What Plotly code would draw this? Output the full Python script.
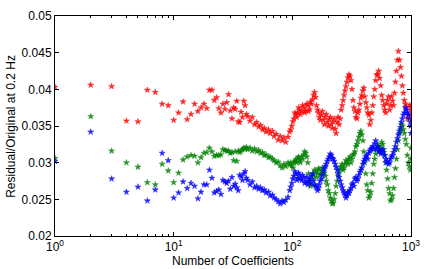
import plotly.graph_objects as go

# individual coefficient counts 1..41
n_low = list(range(1, 42))
red_low = [0.0403, 0.0406, 0.0404, 0.0357, 0.0356, 0.0399, 0.0396, 0.0380, 0.0378, 0.0358,
           0.0368, 0.0383, 0.0359, 0.0366, 0.0380, 0.0370, 0.0375, 0.0380, 0.0374, 0.0399,
           0.0399, 0.0385, 0.0389, 0.0374, 0.0368, 0.0380, 0.0373, 0.0382, 0.0393, 0.0371,
           0.0360, 0.0375, 0.0373, 0.0384, 0.0356, 0.0355, 0.0369, 0.0362, 0.0384, 0.0378,
           0.0366]
green_low = [0.0306, 0.0363, 0.0316, 0.0300, 0.0294, 0.0273, 0.0270, 0.0298, 0.0289, 0.0273,
             0.0286, 0.0304, 0.0308, 0.0310, 0.0309, 0.0300, 0.0307, 0.0313, 0.0314, 0.0320,
             0.0315, 0.0309, 0.0310, 0.0310, 0.0311, 0.0318, 0.0317, 0.0316, 0.0316, 0.0313,
             0.0314, 0.0303, 0.0315, 0.0302, 0.0316, 0.0314, 0.0316, 0.0318, 0.0320, 0.0319,
             0.0321]
blue_low = [0.0302, 0.0342, 0.0278, 0.0260, 0.0267, 0.0248, 0.0263, 0.0313, 0.0303, 0.0252,
            0.0259, 0.0274, 0.0265, 0.0272, 0.0268, 0.0251, 0.0260, 0.0270, 0.0270, 0.0290,
            0.0279, 0.0259, 0.0261, 0.0263, 0.0257, 0.0276, 0.0274, 0.0272, 0.0275, 0.0264,
            0.0280, 0.0268, 0.0271, 0.0266, 0.0262, 0.0283, 0.0281, 0.0276, 0.0285, 0.0288,
            0.0279]

# sampled coefficient counts 42..1000
n_high = [42, 44, 46, 48, 50, 52, 54, 56, 58, 60, 63, 65, 68, 70, 73, 76, 79, 82, 85, 88,
          92, 95, 99, 103, 107, 111, 115, 120, 125, 130, 135, 140, 145, 151, 157, 163, 169,
          176, 183, 190, 197, 205, 213, 221, 230, 239, 248, 258, 268, 278, 289, 300, 312,
          324, 337, 350, 364, 378, 393, 408, 424, 441, 458, 476, 495, 514, 534, 555, 577,
          600, 623, 647, 672, 699, 726, 754, 784, 815, 846, 879, 914, 950, 987, 1000]
red_high = [0.0363, 0.0357, 0.0362, 0.0352, 0.0355, 0.0349, 0.0351, 0.0345, 0.0347, 0.0342,
            0.0345, 0.0340, 0.0343, 0.0336, 0.0339, 0.0331, 0.0336, 0.0330, 0.0334, 0.0328,
            0.0335, 0.0342, 0.0350, 0.0360, 0.0365, 0.0368, 0.0372, 0.0370, 0.0375, 0.0371,
            0.0378, 0.0373, 0.0380, 0.0392, 0.0389, 0.0372, 0.0362, 0.0365, 0.0358, 0.0362,
            0.0355, 0.0359, 0.0352, 0.0356, 0.0346, 0.0355, 0.0352, 0.0372, 0.0385, 0.0398,
            0.0410, 0.0420, 0.0412, 0.0385, 0.0370, 0.0360, 0.0372, 0.0388, 0.0398, 0.0390,
            0.0375, 0.0365, 0.0358, 0.0378, 0.0400, 0.0420, 0.0425, 0.0405, 0.0385, 0.0372,
            0.0380, 0.0390, 0.0378, 0.0384, 0.0395, 0.0425, 0.0452, 0.0430, 0.0405, 0.0385,
            0.0375, 0.0365, 0.0372, 0.0378]
green_high = [0.0318, 0.0320, 0.0316, 0.0319, 0.0315, 0.0317, 0.0313, 0.0314, 0.0310, 0.0311,
              0.0307, 0.0308, 0.0305, 0.0303, 0.0300, 0.0301, 0.0296, 0.0293, 0.0298, 0.0295,
              0.0300, 0.0297, 0.0296, 0.0300, 0.0304, 0.0306, 0.0303, 0.0308, 0.0311, 0.0313,
              0.0300, 0.0275, 0.0270, 0.0283, 0.0288, 0.0285, 0.0290, 0.0285, 0.0290, 0.0282,
              0.0270, 0.0258, 0.0248, 0.0245, 0.0258, 0.0275, 0.0288, 0.0295, 0.0290, 0.0298,
              0.0302, 0.0305, 0.0300, 0.0310, 0.0315, 0.0325, 0.0335, 0.0343, 0.0330, 0.0300,
              0.0270, 0.0252, 0.0260, 0.0285, 0.0305, 0.0318, 0.0322, 0.0320, 0.0325, 0.0310,
              0.0290, 0.0265, 0.0248, 0.0255, 0.0280, 0.0305, 0.0330, 0.0345, 0.0350, 0.0340,
              0.0325, 0.0300, 0.0290, 0.0320]
blue_high = [0.0276, 0.0270, 0.0274, 0.0266, 0.0268, 0.0264, 0.0266, 0.0262, 0.0263, 0.0259,
             0.0260, 0.0255, 0.0256, 0.0252, 0.0250, 0.0247, 0.0244, 0.0248, 0.0246, 0.0249,
             0.0253, 0.0262, 0.0272, 0.0282, 0.0285, 0.0279, 0.0283, 0.0276, 0.0280, 0.0274,
             0.0270, 0.0278, 0.0282, 0.0275, 0.0268, 0.0262, 0.0270, 0.0278, 0.0288, 0.0295,
             0.0302, 0.0308, 0.0310, 0.0305, 0.0298, 0.0290, 0.0280, 0.0270, 0.0262, 0.0256,
             0.0255, 0.0258, 0.0265, 0.0272, 0.0278, 0.0275, 0.0283, 0.0290, 0.0298, 0.0305,
             0.0310, 0.0313, 0.0318, 0.0322, 0.0326, 0.0320, 0.0315, 0.0312, 0.0318, 0.0310,
             0.0300, 0.0298, 0.0305, 0.0310, 0.0318, 0.0328, 0.0338, 0.0348, 0.0360, 0.0368,
             0.0372, 0.0365, 0.0355, 0.0340]

# extra readings in the dense region (other edge of each band)
n_mid = [97, 101, 105, 109, 113, 117, 122, 127, 132, 137, 142, 148, 154, 160, 166, 172, 179,
         186, 193, 201, 209, 217, 225, 234, 243, 253, 263, 273, 283, 294, 306, 318, 330, 343,
         357, 371, 385, 400, 416, 432, 449, 467, 485, 504, 524, 544, 566, 588, 611, 635, 660,
         685, 712, 740, 769, 799, 830, 862, 896, 932, 968, 995]
red_mid = [0.0345, 0.0356, 0.0368, 0.0362, 0.0375, 0.0366, 0.0378, 0.0368, 0.0380, 0.0370,
           0.0383, 0.0386, 0.0396, 0.0378, 0.0368, 0.0358, 0.0370, 0.0352, 0.0366, 0.0350,
           0.0362, 0.0347, 0.0360, 0.0340, 0.0362, 0.0360, 0.0378, 0.0392, 0.0404, 0.0416,
           0.0418, 0.0400, 0.0375, 0.0362, 0.0368, 0.0380, 0.0392, 0.0402, 0.0382, 0.0368,
           0.0352, 0.0368, 0.0390, 0.0412, 0.0420, 0.0415, 0.0392, 0.0378, 0.0368, 0.0385,
           0.0372, 0.0390, 0.0378, 0.0410, 0.0440, 0.0440, 0.0418, 0.0395, 0.0380, 0.0360,
           0.0378, 0.0365]
green_mid = [0.0300, 0.0293, 0.0302, 0.0300, 0.0308, 0.0300, 0.0305, 0.0315, 0.0308, 0.0285,
             0.0268, 0.0278, 0.0290, 0.0280, 0.0292, 0.0283, 0.0293, 0.0286, 0.0275, 0.0262,
             0.0252, 0.0244, 0.0250, 0.0268, 0.0282, 0.0292, 0.0298, 0.0293, 0.0303, 0.0298,
             0.0308, 0.0305, 0.0312, 0.0322, 0.0330, 0.0340, 0.0338, 0.0315, 0.0285, 0.0262,
             0.0255, 0.0272, 0.0298, 0.0312, 0.0325, 0.0316, 0.0328, 0.0318, 0.0300, 0.0278,
             0.0258, 0.0250, 0.0265, 0.0292, 0.0318, 0.0340, 0.0352, 0.0345, 0.0332, 0.0310,
             0.0295, 0.0305]
blue_mid = [0.0267, 0.0278, 0.0288, 0.0276, 0.0286, 0.0278, 0.0283, 0.0272, 0.0280, 0.0275,
            0.0272, 0.0285, 0.0270, 0.0266, 0.0265, 0.0275, 0.0283, 0.0292, 0.0298, 0.0305,
            0.0312, 0.0306, 0.0302, 0.0294, 0.0285, 0.0275, 0.0266, 0.0259, 0.0252, 0.0260,
            0.0262, 0.0270, 0.0268, 0.0280, 0.0278, 0.0287, 0.0293, 0.0302, 0.0308, 0.0305,
            0.0316, 0.0320, 0.0318, 0.0330, 0.0322, 0.0318, 0.0315, 0.0314, 0.0305, 0.0302,
            0.0300, 0.0308, 0.0314, 0.0322, 0.0333, 0.0343, 0.0355, 0.0365, 0.0375, 0.0368,
            0.0360, 0.0350]

x_ticks = [1, 10, 100, 1000]
x_tick_labels = ["10<sup>0</sup>", "10<sup>1</sup>", "10<sup>2</sup>", "10<sup>3</sup>"]
x_minor_ticks = [2, 3, 4, 5, 6, 7, 8, 9, 20, 30, 40, 50, 60, 70, 80, 90,
                 200, 300, 400, 500, 600, 700, 800, 900]
y_ticks = [0.02, 0.025, 0.03, 0.035, 0.04, 0.045, 0.05]
y_tick_labels = ["0.02", "0.025", "0.03", "0.035", "0.04", "0.045", "0.05"]

FONT = "Liberation Sans, Arial, Helvetica, sans-serif"

series = [
    ("red", red_low + red_high + red_mid, "#ff0000"),
    ("green", green_low + green_high + green_mid, "#008000"),
    ("blue", blue_low + blue_high + blue_mid, "#0000ff"),
]
n_all = n_low + n_high + n_mid

fig = go.Figure()
for name, vals, col in series:
    fig.add_trace(go.Scatter(
        x=n_all, y=vals, mode="markers", name=name,
        marker=dict(symbol="star", size=4.5, color=col, opacity=0.85,
                    line=dict(width=0.5, color=col)),
        showlegend=False, cliponaxis=True,
    ))

axis_common = dict(
    showline=True, linecolor="black", linewidth=1, mirror="allticks",
    ticks="inside", ticklen=4, tickcolor="black", tickwidth=1,
    showgrid=False, zeroline=False,
    tickfont=dict(family=FONT, size=12, color="black"),
)

fig.update_layout(
    width=429, height=269,
    margin=dict(l=55, r=12, t=9, b=33),
    paper_bgcolor="white", plot_bgcolor="white",
    font=dict(family=FONT, size=12, color="black"),
    xaxis=dict(
        type="log", range=[0, 3], tickvals=x_ticks, ticktext=x_tick_labels,
        minor=dict(tickmode="array", tickvals=x_minor_ticks, ticks="inside",
                   ticklen=2, tickcolor="black", tickwidth=1, showgrid=False),
        **axis_common,
    ),
    yaxis=dict(
        range=[0.02, 0.05], tickvals=y_ticks, ticktext=y_tick_labels,
        **axis_common,
    ),
    annotations=[
        dict(text="Number of Coefficients", xref="paper", yref="paper",
             x=0.5, y=-0.115, xanchor="center", yanchor="middle", showarrow=False,
             font=dict(family=FONT, size=12, color="black")),
        dict(text="Residual/Original at 0.2 Hz", xref="paper", yref="paper",
             x=-0.124, y=0.5, xanchor="center", yanchor="middle", textangle=-90,
             showarrow=False, font=dict(family=FONT, size=12, color="black")),
    ],
)

fig.write_html("out.html", config={"displayModeBar": False},
               post_script="document.body.style.margin='0';document.body.style.overflow='hidden';")
